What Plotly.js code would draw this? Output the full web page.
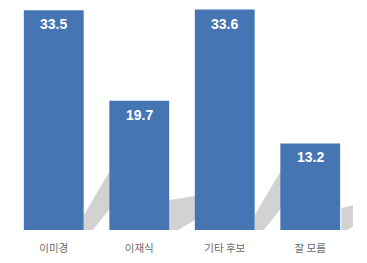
<!DOCTYPE html>
<html>
<head>
<meta charset="utf-8">
<script src="https://cdn.plot.ly/plotly-3.0.1.min.js"></script>
<style>html,body{margin:0;padding:0;background:#fff;}#chart{width:367px;height:263px;}</style>
</head>
<body>
<div id="chart"></div>
<script>
// Data
const categories = ['이미경', '이재식', '기타 후보', '잘 모름'];
const values = [33.5, 19.7, 33.6, 13.2];
const valueLabels = ['33.5', '19.7', '33.6', '13.2'];

// Decorative floor shadows (category-index / value units)
const shadowShapes = [
  [[0.352,2.29],[0.70,10.0],[0.70,3.96],[0.457,0],[0.352,0]],
  [[1.348,4.57],[1.70,5.27],[1.70,1.89],[1.453,0],[1.348,0]],
  [[2.352,2.29],[2.70,10.0],[2.70,3.96],[2.457,0],[2.352,0]],
  [[3.364,3.35],[3.51,3.81],[3.51,0.61],[3.434,0],[3.364,0]]
].map(pts => ({
  type: 'path', xref: 'x', yref: 'y', layer: 'below',
  path: 'M' + pts.map(p => p[0] + ',' + p[1]).join(' L') + ' Z',
  fillcolor: '#d2d2d2', line: {width: 0}
}));

const trace = {
  type: 'bar',
  x: categories.map((c, i) => i),
  y: values,
  marker: {color: '#4675B3', line: {width: 0}},
  hoverinfo: 'none'
};

const annotations = values.map((v, i) => ({
  x: i, y: v, xref: 'x', yref: 'y',
  text: '<b>' + valueLabels[i] + '</b>',
  showarrow: false, yanchor: 'middle', yshift: -14,
  font: {family: 'Liberation Sans, Arial, sans-serif', size: 14, color: '#ffffff'}
}));

const layout = {
  width: 367, height: 263,
  margin: {l: 11, r: 14, t: 5, b: 33},
  paper_bgcolor: '#ffffff', plot_bgcolor: '#ffffff',
  bargap: 0.3,
  showlegend: false,
  xaxis: {
    tickmode: 'array',
    tickvals: categories.map((c, i) => i),
    ticktext: categories,
    range: [-0.5, 3.5],
    showgrid: false, zeroline: false, showline: false,
    ticks: '', ticklabelstandoff: 10,
    tickfont: {family: 'Noto Sans CJK KR, sans-serif', size: 10.5, color: '#6a6a6a'},
    fixedrange: true
  },
  yaxis: {
    range: [0, 34.3],
    visible: false, showgrid: false, zeroline: false,
    fixedrange: true
  },
  shapes: shadowShapes,
  annotations: annotations
};

Plotly.newPlot('chart', [trace], layout, {displayModeBar: false, staticPlot: true});
</script>
</body>
</html>
